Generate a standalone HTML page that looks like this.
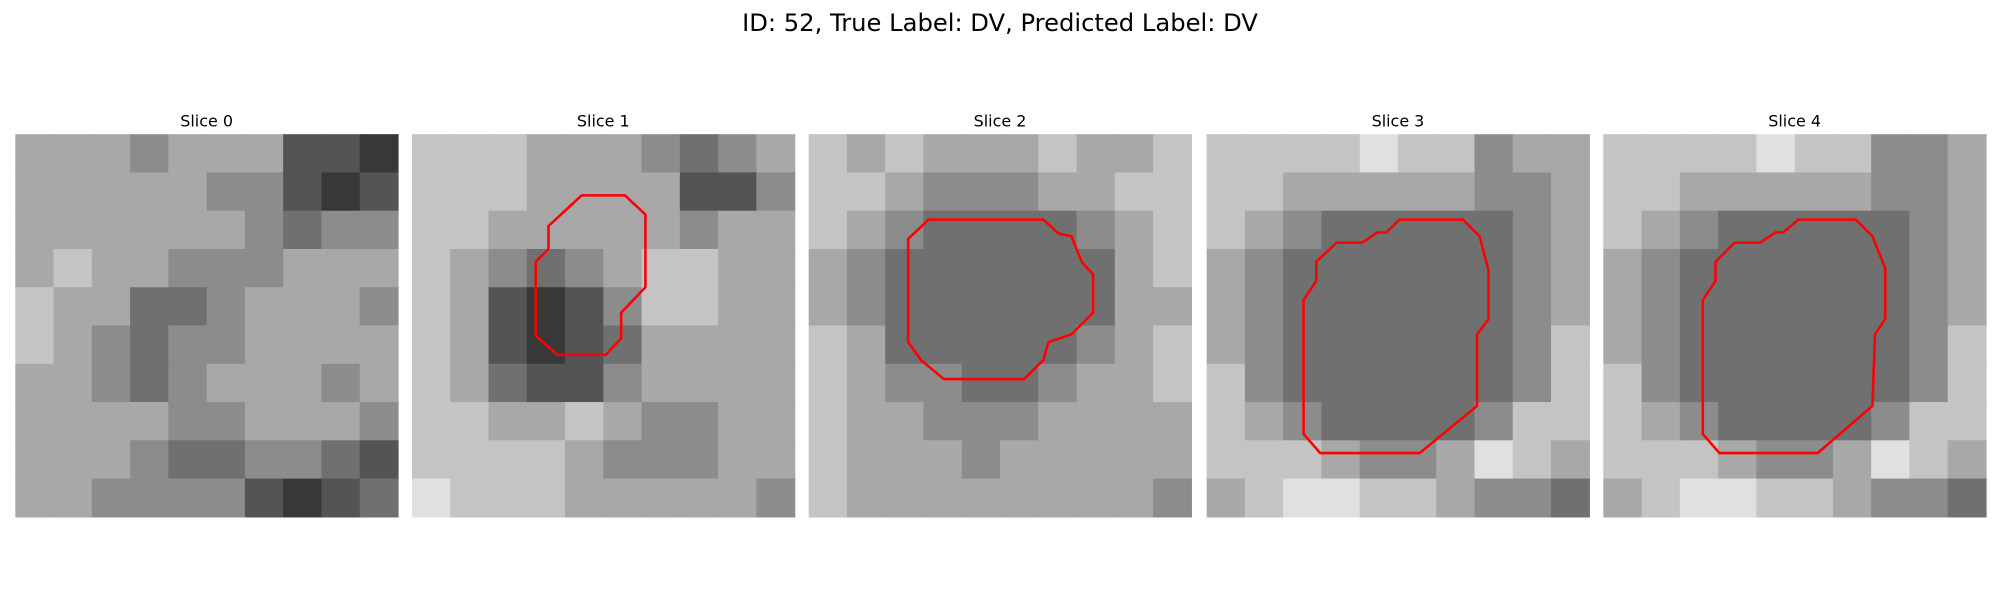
<!DOCTYPE html>
<html><head><meta charset="utf-8"><style>
html,body{margin:0;padding:0;background:#fff;}
svg{display:block;font-family:"DejaVu Sans","Liberation Sans",sans-serif;}
</style></head><body>
<svg id="fig" width="2000" height="600" viewBox="0 0 1568 470" xmlns="http://www.w3.org/2000/svg">
<text x="784" y="24" text-anchor="middle" font-size="19" fill="#000">ID: 52, True Label: DV, Predicted Label: DV</text>
</svg>
<script>
const sliceTitles = ["Slice 0","Slice 1","Slice 2","Slice 3","Slice 4"];
const slice0 = [
[6,6,6,5,6,6,6,3,3,2],[6,6,6,6,6,5,5,3,2,3],[6,6,6,6,6,6,5,4,5,5],[6,7,6,6,5,5,5,6,6,6],[7,6,6,4,4,5,6,6,6,5],
[7,6,5,4,5,5,6,6,6,6],[6,6,5,4,5,6,6,6,5,6],[6,6,6,6,5,5,6,6,6,5],[6,6,6,5,4,4,5,5,4,3],[6,6,5,5,5,5,3,2,3,4]];
const slice1 = [
[7,7,7,6,6,6,5,4,5,6],[7,7,7,6,6,6,6,3,3,5],[7,7,6,6,6,6,6,5,6,6],[7,6,5,4,5,6,7,7,6,6],[7,6,3,2,3,5,7,7,6,6],
[7,6,3,2,3,4,6,6,6,6],[7,6,4,3,3,5,6,6,6,6],[7,7,6,6,7,6,5,5,6,6],[7,7,7,7,6,5,5,5,6,6],[8,7,7,7,6,6,6,6,6,5]];
const slice2 = [
[7,6,7,6,6,6,7,6,6,7],[7,7,6,5,5,5,6,6,7,7],[7,6,5,4,4,4,4,5,6,7],[6,5,4,4,4,4,4,4,6,7],[6,5,4,4,4,4,4,4,6,6],
[7,6,4,4,4,4,4,5,6,7],[7,6,5,5,4,4,5,6,6,7],[7,6,6,5,5,5,6,6,6,6],[7,6,6,6,5,6,6,6,6,6],[7,6,6,6,6,6,6,6,6,5]];
const slice3 = [
[7,7,7,7,8,7,7,5,6,6],[7,7,6,6,6,6,6,5,5,6],[7,6,5,4,4,4,4,4,5,6],[6,5,4,4,4,4,4,4,5,6],[6,5,4,4,4,4,4,4,5,6],
[6,5,4,4,4,4,4,4,5,7],[7,5,4,4,4,4,4,4,5,7],[7,6,5,4,4,4,4,5,7,7],[7,7,7,6,5,5,6,8,7,6],[6,7,8,8,7,7,6,5,5,4]];
const slice4 = [
[7,7,7,7,8,7,7,5,5,6],[7,7,6,6,6,6,6,5,5,6],[7,6,5,4,4,4,4,4,5,6],[6,5,4,4,4,4,4,4,5,6],[6,5,4,4,4,4,4,4,5,6],
[6,5,4,4,4,4,4,4,5,7],[7,5,4,4,4,4,4,4,5,7],[7,6,5,4,4,4,4,5,7,7],[7,7,7,6,5,5,6,8,7,6],[6,7,8,8,7,7,6,5,5,4]];
const contour1 = [[133,48],[167,48],[183,63],[183,120],[164,140],[164,160],[152,173],[114,173],[97,158],[97,100],[107,90],[107,72]];
const contour2 = [[94,67],[184,67],[196,78],[206,80],[214,100],[223,110],[223,140],[206,157],[188,163],[184,177],[169,192],[106,192],[88,177],[78,163],[78,82]];
const contour3 = [[151,67],[201,67],[214,80],[221,107],[221,145],[212,157],[212,213],[167,250],[89,250],[76,235],[76,130],[86,115],[86,100],[102,85],[122,85],[134,77],[141,77]];
const contour4 = [[153,67],[198,67],[211,80],[221,105],[221,145],[213,157],[211,213],[168,250],[91,250],[78,235],[78,130],[88,115],[88,100],[103,85],[123,85],[135,77],[141,77]];

const slices=[slice0,slice1,slice2,slice3,slice4];
const contours=[null,contour1,contour2,contour3,contour4];
const NS="http://www.w3.org/2000/svg";
const svg=document.getElementById('fig');
const panelX=[12,323,634,946,1257], panelY=105, panelS=300;
function gray(v){const g=Math.round(v*28);return `rgb(${g},${g},${g})`;}
slices.forEach((grid,p)=>{
  const g=document.createElementNS(NS,'g');
  
  
  const t=document.createElementNS(NS,'text');
  
  
  t.setAttribute('x',panelX[p]+panelS/2);t.setAttribute('y',99);
  t.setAttribute('text-anchor','middle');t.setAttribute('font-size','12.5');
  t.textContent=sliceTitles[p];g.appendChild(t);
  const n=grid.length, c=panelS/n;
  grid.forEach((row,r)=>row.forEach((v,k)=>{
    const rc=document.createElementNS(NS,'rect');
    
    
    rc.setAttribute('x',panelX[p]+k*c);rc.setAttribute('y',panelY+r*c);
    rc.setAttribute('width',c+0.5);rc.setAttribute('height',c+0.5);
    rc.setAttribute('fill',gray(v));g.appendChild(rc);
  }));
  if(contours[p]){
    const pl=document.createElementNS(NS,'polygon');
    
    
    pl.setAttribute('points',contours[p].map(q=>(panelX[p]+q[0])+','+(panelY+q[1])).join(' '));
    pl.setAttribute('fill','none');pl.setAttribute('stroke','#ff0000');pl.setAttribute('stroke-width','2');
    g.appendChild(pl);
  }
  svg.appendChild(g);
});
</script>
</body></html>
